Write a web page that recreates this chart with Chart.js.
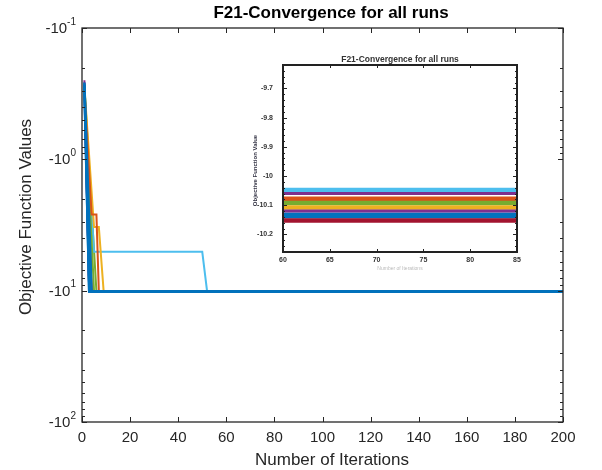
<!DOCTYPE html>
<html>
<head>
<meta charset="utf-8">
<script src="https://cdn.jsdelivr.net/npm/chart.js@4.4.1/dist/chart.umd.min.js"></script>
<style>
  body { margin: 0; background: #fff; }
  #wrap { position: relative; width: 602px; height: 470px; }
  #main { position: absolute; left: 0; top: 0; }
  #inset { position: absolute; left: 240px; top: 48px; background: #fff; }
</style>
</head>
<body>
<div id="wrap">
  <canvas id="main" width="602" height="470"></canvas>
  <canvas id="inset" width="290" height="230"></canvas>
</div>
<script>
// F21 (Shekel) convergence data, one entry per run
const maxIter = 200;
const startValues = [-0.28, -0.30, -0.28, -0.25, -0.29, -0.28, -0.27, -0.26, -0.29, -0.30, -0.26, -0.28, -0.27, -0.30, -0.27];
const dropIters   = [3, 7, 9, 3, 5, 52, 4, 3, 4, 4, 3, 6, 3, 3, 4];
const finalValues = [-10.135, -10.075, -10.105, -10.12, -10.09, -10.045, -10.155, -10.13, -10.08, -10.11, -10.06, -10.095, -10.05, -10.15, -10.14];

// runs that got stuck in a local optimum for a while
const stallRuns   = [1, 2, 5];
const stallFrom   = [4, 5, 5];
const stallTo     = [6, 7, 50];
const stallValues = [-2.63, -3.28, -5.055];

// axes
const xTicks = [0, 20, 40, 60, 80, 100, 120, 140, 160, 180, 200];
const yTickExps = [-1, 0, 1, 2];
const insetXTicks = [60, 65, 70, 75, 80, 85];
const insetYTicks = [-9.7, -9.8, -9.9, -10, -10.1, -10.2];

const matlabColors = ["#0072BD", "#D95319", "#EDB120", "#7E2F8E", "#77AC30", "#4DBEEE", "#A2142F"];
const FONT = '"Liberation Sans", Arial, sans-serif';
const INK = "#262626";

const runPoints = (i) => {
  const pts = [{ x: 1, y: startValues[i] }];
  const s = stallRuns.indexOf(i);
  if (s >= 0) {
    pts.push({ x: stallFrom[s], y: stallValues[s] });
    pts.push({ x: stallTo[s], y: stallValues[s] });
  }
  pts.push({ x: dropIters[i], y: finalValues[i] });
  pts.push({ x: maxIter, y: finalValues[i] });
  return pts;
};

// main plot uses magnitudes on a reversed log axis (-10^-1 at top)
const mainDatasets = startValues.map((_, i) => ({
  data: runPoints(i).map((p) => ({ x: p.x, y: Math.abs(p.y) })),
  borderColor: matlabColors[i % matlabColors.length],
  borderWidth: i % matlabColors.length === 0 ? 2.5 : 2,
  order: i % matlabColors.length === 0 ? 0 : 1,
  pointRadius: 0,
  tension: 0,
}));

const insetDatasets = startValues.map((_, i) => ({
  data: runPoints(i),
  borderColor: matlabColors[i % matlabColors.length],
  borderWidth: 3,
  pointRadius: 0,
  tension: 0,
}));

// box, inward ticks, labels, titles for the main axes
const mainDecor = {
  id: "mainDecor",
  afterDraw(chart) {
    const { ctx, chartArea: a, scales } = chart;
    const x = scales.x, y = scales.y;
    ctx.save();
    ctx.strokeStyle = INK;
    ctx.lineWidth = 1.3;
    ctx.strokeRect(a.left, a.top, a.right - a.left, a.bottom - a.top);

    ctx.lineWidth = 1;
    ctx.beginPath();
    xTicks.forEach((t) => {
      const px = Math.round(x.getPixelForValue(t)) + 0.5;
      ctx.moveTo(px, a.bottom); ctx.lineTo(px, a.bottom - 5);
      ctx.moveTo(px, a.top); ctx.lineTo(px, a.top + 5);
    });
    yTickExps.forEach((e, k) => {
      const base = Math.pow(10, e);
      const py = Math.round(y.getPixelForValue(base)) + 0.5;
      ctx.moveTo(a.left, py); ctx.lineTo(a.left + 5, py);
      ctx.moveTo(a.right, py); ctx.lineTo(a.right - 5, py);
      if (k < yTickExps.length - 1) {
        for (let m = 2; m <= 9; m++) {
          const pm = Math.round(y.getPixelForValue(base * m)) + 0.5;
          ctx.moveTo(a.left, pm); ctx.lineTo(a.left + 3, pm);
          ctx.moveTo(a.right, pm); ctx.lineTo(a.right - 3, pm);
        }
      }
    });
    ctx.stroke();

    // y tick labels: -10 with superscript exponent
    ctx.fillStyle = INK;
    ctx.textBaseline = "middle";
    yTickExps.forEach((e) => {
      const py = y.getPixelForValue(Math.pow(10, e));
      ctx.font = "10px " + FONT;
      ctx.textAlign = "left";
      const expText = String(e);
      const ew = ctx.measureText(expText).width;
      const right = a.left - 6;
      ctx.fillText(expText, right - ew, py - 6);
      ctx.font = "15px " + FONT;
      ctx.textAlign = "right";
      ctx.fillText("-10", right - ew, py + 1);
    });

    // titles
    ctx.font = "bold 17px " + FONT;
    ctx.textAlign = "center";
    ctx.fillStyle = "#000";
    ctx.fillText("F21-Convergence for all runs", 331, 13);

    ctx.fillStyle = INK;
    ctx.font = "17px " + FONT;
    ctx.fillText("Number of Iterations", 332, 460);

    ctx.translate(26, 217);
    ctx.rotate(-Math.PI / 2);
    ctx.fillText("Objective Function Values", 0, 0);
    ctx.restore();
  },
};

new Chart(document.getElementById("main"), {
  type: "line",
  data: { datasets: mainDatasets },
  options: {
    responsive: false,
    animation: false,
    devicePixelRatio: 1,
    layout: { padding: { top: 28, left: 0, right: 39, bottom: 0 } },
    plugins: { legend: { display: false }, tooltip: { enabled: false } },
    scales: {
      x: {
        type: "linear",
        min: 0,
        max: maxIter,
        afterBuildTicks: (s) => { s.ticks = xTicks.map((v) => ({ value: v })); },
        afterFit: (s) => { s.height = 48; },
        grid: { display: false, drawTicks: false },
        border: { display: false },
        ticks: { color: INK, font: { size: 15, family: FONT }, padding: 7, maxRotation: 0, autoSkip: false },
      },
      y: {
        type: "logarithmic",
        reverse: true,
        min: Math.pow(10, yTickExps[0]),
        max: Math.pow(10, yTickExps[yTickExps.length - 1]),
        afterFit: (s) => { s.width = 82; },
        grid: { display: false, drawTicks: false },
        border: { display: false },
        ticks: { display: false },
      },
    },
  },
  plugins: [mainDecor],
});

// inset: zoom on iterations 60-85
const insetDecor = {
  id: "insetDecor",
  afterDraw(chart) {
    const { ctx, chartArea: a, scales } = chart;
    const x = scales.x, y = scales.y;
    ctx.save();
    ctx.strokeStyle = "#222";
    ctx.lineWidth = 2;
    ctx.strokeRect(a.left, a.top, a.right - a.left, a.bottom - a.top);
    ctx.lineWidth = 1;
    ctx.beginPath();
    insetXTicks.forEach((t) => {
      const px = Math.round(x.getPixelForValue(t)) + 0.5;
      ctx.moveTo(px, a.bottom); ctx.lineTo(px, a.bottom - 3);
      ctx.moveTo(px, a.top); ctx.lineTo(px, a.top + 3);
    });
    for (let v = -9.6; v >= -10.26; v -= 0.02) {
      const py = Math.round(y.getPixelForValue(v)) + 0.5;
      if (py < a.top || py > a.bottom) continue;
      ctx.moveTo(a.left, py); ctx.lineTo(a.left + 2, py);
      ctx.moveTo(a.right, py); ctx.lineTo(a.right - 2, py);
    }
    insetYTicks.forEach((t) => {
      const py = Math.round(y.getPixelForValue(t)) + 0.5;
      ctx.moveTo(a.left, py); ctx.lineTo(a.left + 4, py);
      ctx.moveTo(a.right, py); ctx.lineTo(a.right - 4, py);
    });
    ctx.stroke();

    ctx.fillStyle = "#333";
    ctx.font = "bold 8.5px " + FONT;
    ctx.textAlign = "center";
    ctx.textBaseline = "middle";
    ctx.fillText("F21-Convergence for all runs", (a.left + a.right) / 2, 12);

    ctx.fillStyle = "#bbb";
    ctx.font = "5px " + FONT;
    ctx.fillText("Number of Iterations", (a.left + a.right) / 2, 221);

    ctx.fillStyle = "#334";
    ctx.font = "bold 6px " + FONT;
    ctx.translate(15, (a.top + a.bottom) / 2 + 12);
    ctx.rotate(-Math.PI / 2);
    ctx.fillText("Objective Function Value", 0, 0);
    ctx.restore();
  },
};

new Chart(document.getElementById("inset"), {
  type: "line",
  data: { datasets: insetDatasets },
  options: {
    responsive: false,
    animation: false,
    devicePixelRatio: 1,
    layout: { padding: { top: 17, left: 0, right: 13, bottom: 0 } },
    plugins: { legend: { display: false }, tooltip: { enabled: false } },
    scales: {
      x: {
        type: "linear",
        min: insetXTicks[0],
        max: insetXTicks[insetXTicks.length - 1],
        afterBuildTicks: (s) => { s.ticks = insetXTicks.map((v) => ({ value: v })); },
        afterFit: (s) => { s.height = 26; },
        grid: { display: false, drawTicks: false },
        border: { display: false },
        ticks: { color: "#333", font: { size: 7, weight: "bold", family: FONT }, padding: 4, maxRotation: 0, autoSkip: false },
      },
      y: {
        type: "linear",
        min: -10.26,
        max: -9.62,
        afterBuildTicks: (s) => { s.ticks = insetYTicks.map((v) => ({ value: v })); },
        afterFit: (s) => { s.width = 43; },
        grid: { display: false, drawTicks: false },
        border: { display: false },
        ticks: { color: "#333", font: { size: 7, weight: "bold", family: FONT }, padding: 10, autoSkip: false,
          callback: (v) => String(v) },
      },
    },
  },
  plugins: [insetDecor],
});
</script>
</body>
</html>
